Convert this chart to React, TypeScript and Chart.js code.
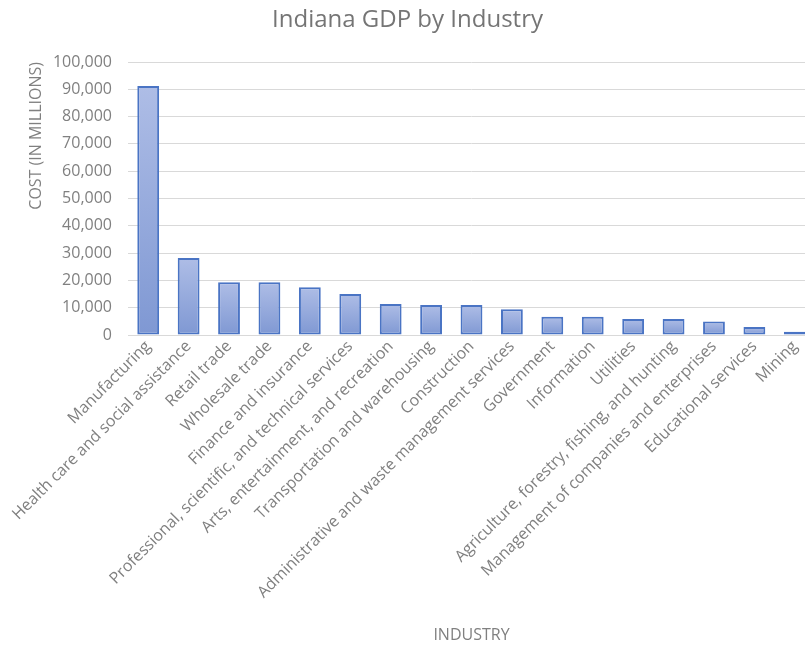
import React, { useEffect, useRef } from "react";
import { Chart, registerables } from "chart.js";

Chart.register(...registerables);

const industries: string[] = [
  "Manufacturing",
  "Health care and social assistance",
  "Retail trade",
  "Wholesale trade",
  "Finance and insurance",
  "Professional, scientific, and technical services",
  "Arts, entertainment, and recreation",
  "Transportation and warehousing",
  "Construction",
  "Administrative and waste management services",
  "Government",
  "Information",
  "Utilities",
  "Agriculture, forestry, fishing, and hunting",
  "Management of companies and enterprises",
  "Educational services",
  "Mining",
];

const gdpValues: number[] = [
  91200, 28200, 19300, 19300, 17500, 15000, 11400, 11000, 11000, 9400, 6700,
  6700, 5900, 5900, 4900, 2900, 1200,
];

const yTickValues: number[] = [0, 10000, 20000, 30000, 40000, 50000, 60000, 70000, 80000, 90000, 100000];

const FONT = "'Open Sans', 'Noto Sans', sans-serif";

export default function App() {
  const ref = useRef<HTMLCanvasElement | null>(null);

  useEffect(() => {
    const canvas = ref.current;
    if (!canvas) return;
    const chart = new Chart(canvas, {
      type: "bar",
      data: {
        labels: industries,
        datasets: [
          {
            label: "GDP",
            data: gdpValues,
            backgroundColor: (ctx: any) => {
              const c = ctx.chart;
              const y = c.scales && c.scales.y;
              if (!y || ctx.dataIndex === undefined || ctx.raw === undefined) return "#94a8dc";
              const top = y.getPixelForValue(ctx.raw);
              const bottom = y.getPixelForValue(0);
              if (!isFinite(top) || !isFinite(bottom) || top === bottom) return "#94a8dc";
              const g = c.ctx.createLinearGradient(0, top, 0, bottom);
              g.addColorStop(0, "#aebde6");
              g.addColorStop(1, "#7f98d3");
              return g;
            },
            borderColor: "#4a74c4",
            borderWidth: 2,
            borderSkipped: false,
            barPercentage: 0.54,
            categoryPercentage: 1,
          },
        ],
      },
      options: {
        responsive: false,
        animation: false,
        layout: { padding: { left: 0, right: 0, top: 0, bottom: 0 } },
        plugins: {
          legend: { display: false },
          tooltip: { enabled: false },
          title: {
            display: true,
            text: "Indiana GDP by Industry",
            color: "#757575",
            font: { family: FONT, size: 24, weight: "normal" },
            padding: { top: 6, bottom: 27.2 },
          },
        },
        scales: {
          x: {
            grid: { display: false, drawTicks: false },
            border: { display: true, color: "#d9d9d9", width: 1 },
            ticks: {
              autoSkip: false,
              minRotation: 45,
              maxRotation: 45,
              color: "#808080",
              font: { family: FONT, size: 16 },
              padding: 2,
            },
            title: {
              display: true,
              text: "INDUSTRY",
              color: "#808080",
              font: { family: FONT, size: 16 },
              padding: { top: 0, bottom: 0 },
            },
            afterFit: (scale: any) => {
              scale.height = 310;
            },
          },
          y: {
            min: 0,
            max: 100000,
            afterBuildTicks: (scale: any) => {
              scale.ticks = yTickValues.map((v) => ({ value: v }));
            },
            grid: { color: "#d9d9d9", lineWidth: 1, drawTicks: false },
            border: { display: false },
            ticks: {
              color: "#808080",
              font: { family: FONT, size: 16 },
              padding: 16,
              callback: (v: any) => Number(v).toLocaleString("en-US"),
            },
            title: {
              display: true,
              text: "COST (IN MILLIONS)",
              align: "end",
              color: "#808080",
              font: { family: FONT, size: 16 },
              padding: { top: 27, bottom: 0 },
            },
            afterFit: (scale: any) => {
              scale.width = 128;
            },
          },
        },
      },
    } as any);
    return () => chart.destroy();
  }, []);

  return (
    <div
      style={{
        position: "fixed",
        left: 0,
        top: 0,
        width: 805,
        height: 645,
        overflow: "hidden",
        background: "#ffffff",
      }}
    >
      <canvas ref={ref} width={815} height={645} style={{ display: "block" }} />
    </div>
  );
}
